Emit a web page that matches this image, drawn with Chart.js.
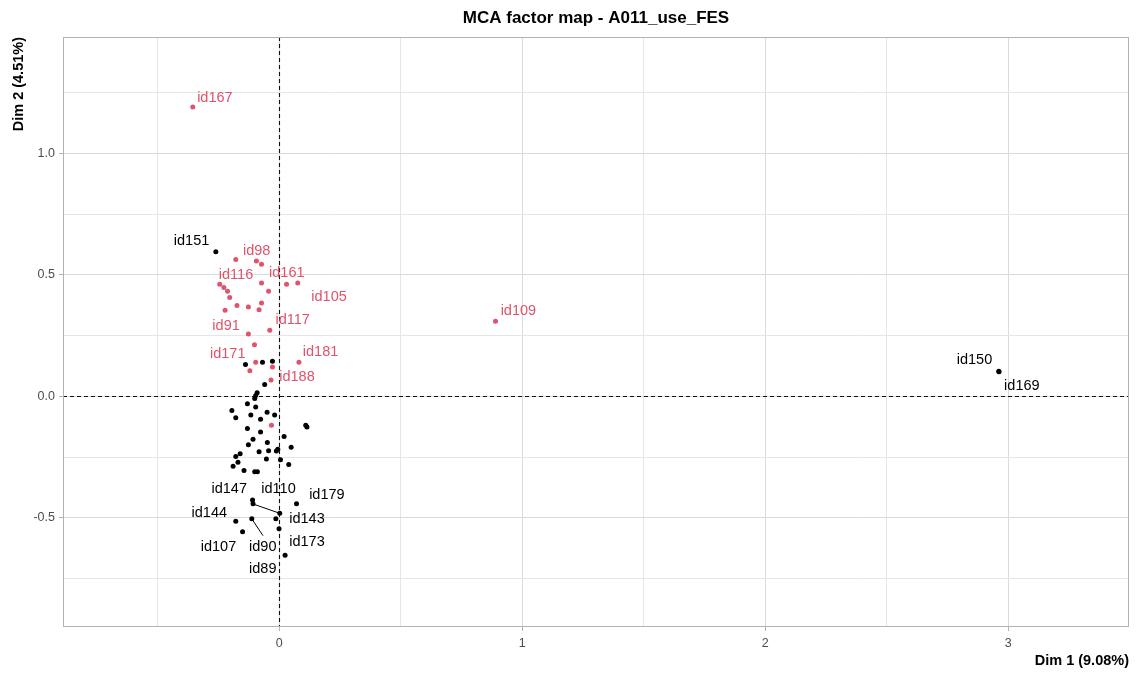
<!DOCTYPE html>
<html><head><meta charset="utf-8">
<script src="https://cdn.jsdelivr.net/npm/chart.js@4/dist/chart.umd.min.js"></script>
<style>html,body{margin:0;padding:0;background:#fff;}canvas{display:block;}</style>
</head><body>
<canvas id="c" width="1137" height="673"></canvas>
<script>
const chartTitle = "MCA factor map - A011_use_FES";
const xTitle = "Dim 1 (9.08%)";
const yTitle = "Dim 2 (4.51%)";
const xRange = [-0.89, 3.497];
const yRange = [-0.949, 1.479];
const xTicks = [-0.5, 0, 0.5, 1, 1.5, 2, 2.5, 3];
const xTickLabels = ["", "0", "", "1", "", "2", "", "3"];
const yTicks = [-0.75, -0.5, -0.25, 0, 0.25, 0.5, 0.75, 1, 1.25];
const yTickLabels = ["", "-0.5", "", "0.0", "", "0.5", "", "1.0", ""];

// individuals in the highlighted group (pink)
const pinkPoints = [
  [-0.356, 1.191], [-0.179, 0.563], [-0.094, 0.557], [-0.073, 0.544], [-0.073, 0.467],
  [0.030, 0.461], [0.076, 0.467], [-0.245, 0.461], [-0.228, 0.448], [-0.213, 0.433],
  [-0.044, 0.433], [-0.204, 0.407], [-0.073, 0.384], [-0.174, 0.374], [-0.127, 0.368],
  [-0.083, 0.357], [-0.223, 0.354], [-0.039, 0.272], [-0.127, 0.257], [-0.102, 0.213],
  [-0.097, 0.140], [-0.028, 0.121], [0.081, 0.140], [-0.121, 0.106], [-0.034, 0.067],
  [0.890, 0.309], [-0.032, -0.119]
];
// other individuals (black)
const blackPoints = [
  [-0.261, 0.595], [-0.139, 0.131], [-0.069, 0.141], [-0.028, 0.145], [-0.060, 0.049],
  [-0.091, 0.015], [-0.097, 0.004], [-0.101, -0.009], [-0.131, -0.030], [-0.097, -0.044],
  [-0.195, -0.058], [-0.050, -0.065], [-0.179, -0.088], [-0.117, -0.077], [-0.077, -0.094],
  [-0.019, -0.077], [0.109, -0.119], [0.114, -0.126], [-0.131, -0.132], [-0.077, -0.147],
  [0.020, -0.165], [-0.108, -0.176], [-0.127, -0.199], [-0.049, -0.190], [0.049, -0.209],
  [-0.083, -0.228], [-0.044, -0.224], [-0.012, -0.225], [-0.006, -0.217], [-0.161, -0.236],
  [-0.179, -0.247], [-0.053, -0.258], [0.005, -0.261], [-0.170, -0.271], [-0.190, -0.287],
  [0.039, -0.280], [-0.145, -0.305], [-0.101, -0.310], [-0.090, -0.310], [-0.110, -0.426],
  [-0.108, -0.442], [0.071, -0.442], [0.002, -0.481], [-0.179, -0.514], [-0.113, -0.504],
  [-0.014, -0.504], [-0.151, -0.557], [-0.001, -0.545], [0.024, -0.654], [2.961, 0.103],
  [2.962, 0.101]
];
// label texts and their (repelled) positions in data units
const labelNames = ["id167","id151","id98","id116","id161","id105","id117","id91","id171","id181","id188","id109",
  "id150","id169","id147","id110","id179","id143","id144","id107","id90","id173","id89"];
const labelX = [-0.265,-0.361,-0.093,-0.178,0.031,0.205,0.055,-0.219,-0.212,0.170,0.073,0.984,
  2.861,3.056,-0.206,-0.003,0.196,0.114,-0.288,-0.250,-0.068,0.114,-0.068];
const labelY = [1.230,0.639,0.599,0.501,0.508,0.411,0.316,0.290,0.173,0.183,0.080,0.351,
  0.151,0.041,-0.380,-0.380,-0.405,-0.504,-0.479,-0.618,-0.618,-0.600,-0.712];
const labelGroup = ["pink","black","pink","pink","pink","pink","pink","pink","pink","pink","pink","pink",
  "black","black","black","black","black","black","black","black","black","black","black"];
// repel segments
const segment1 = [[-0.110, -0.442], [0.002, -0.481]];
const segment2 = [[-0.113, -0.504], [-0.067, -0.573]];

const PINK = "#DF536B";
const FONT = "'Liberation Sans', Arial, sans-serif";
const toXY = a => a.map(p => ({x: p[0], y: p[1]}));

const decor = {
  id: "decor",
  beforeDraw(chart) {
    const c = chart.ctx;
    c.save(); c.fillStyle = "#fff"; c.fillRect(0, 0, chart.width, chart.height); c.restore();
  },
  beforeDatasetsDraw(chart) {
    const c = chart.ctx, a = chart.chartArea, xs = chart.scales.x, ys = chart.scales.y;
    c.save();
    c.strokeStyle = "#111"; c.lineWidth = 1.1; c.setLineDash([4, 3]);
    const x0 = Math.round(xs.getPixelForValue(0)) + 0.5;
    const y0 = Math.round(ys.getPixelForValue(0)) + 0.5;
    c.beginPath(); c.moveTo(x0, a.top); c.lineTo(x0, a.bottom); c.stroke();
    c.beginPath(); c.moveTo(a.left, y0); c.lineTo(a.right, y0); c.stroke();
    c.restore();
  },
  afterDatasetsDraw(chart) {
    const c = chart.ctx, a = chart.chartArea, xs = chart.scales.x, ys = chart.scales.y;
    c.save();
    // panel border
    c.strokeStyle = "#b3b3b3"; c.lineWidth = 1;
    c.strokeRect(Math.round(a.left) + 0.5, Math.round(a.top) + 0.5,
      Math.round(a.right - a.left) - 1, Math.round(a.bottom - a.top) - 1);
    // point labels
    c.font = "14.5px " + FONT; c.textAlign = "center"; c.textBaseline = "middle";
    labelNames.forEach((n, i) => {
      c.fillStyle = labelGroup[i] === "pink" ? PINK : "#000";
      c.fillText(n, xs.getPixelForValue(labelX[i]), ys.getPixelForValue(labelY[i]));
    });
    // titles
    c.fillStyle = "#000";
    c.font = "bold 17px " + FONT; c.textAlign = "center";
    c.fillText(chartTitle, (a.left + a.right) / 2, 18);
    c.font = "bold 14.5px " + FONT; c.textAlign = "right";
    c.fillText(xTitle, a.right, 661);
    c.translate(19, a.top); c.rotate(-Math.PI / 2);
    c.fillText(yTitle, 0, 0);
    c.restore();
  }
};

const isMajorX = v => xTickLabels[xTicks.indexOf(v)] !== "";
const isMajorY = v => yTickLabels[yTicks.indexOf(v)] !== "";

new Chart(document.getElementById("c"), {
  type: "scatter",
  data: {
    datasets: [
      {data: toXY(segment1), showLine: true, borderColor: "#000", borderWidth: 1, pointRadius: 0},
      {data: toXY(segment2), showLine: true, borderColor: "#000", borderWidth: 1, pointRadius: 0},
      {data: toXY(blackPoints), backgroundColor: "#000", borderWidth: 0, pointRadius: 2.5},
      {data: toXY(pinkPoints), backgroundColor: PINK, borderWidth: 0, pointRadius: 2.5}
    ]
  },
  options: {
    responsive: false, animation: false, devicePixelRatio: 1,
    layout: {padding: {top: 37, right: 8, left: 0, bottom: 0}},
    plugins: {legend: {display: false}, tooltip: {enabled: false}, title: {display: false}},
    scales: {
      x: {
        type: "linear", min: xRange[0], max: xRange[1],
        afterBuildTicks: s => { s.ticks = xTicks.map(v => ({value: v})); },
        afterFit: s => { s.height = 46; },
        ticks: {callback: v => xTickLabels[xTicks.indexOf(v)], font: {family: FONT, size: 12.5}, color: "#4d4d4d", padding: 5, maxRotation: 0, autoSkip: false},
        grid: {
          color: ctx => isMajorX(ctx.tick.value) ? "#dadada" : "#e6e6e6",
          lineWidth: 1,
          tickColor: ctx => isMajorX(ctx.tick.value) ? "#b3b3b3" : "rgba(0,0,0,0)",
          tickLength: 4, drawTicks: true
        },
        border: {display: false}
      },
      y: {
        type: "linear", min: yRange[0], max: yRange[1],
        afterBuildTicks: s => { s.ticks = yTicks.map(v => ({value: v})); },
        afterFit: s => { s.width = 63; },
        ticks: {callback: v => yTickLabels[yTicks.indexOf(v)], font: {family: FONT, size: 12.5}, color: "#4d4d4d", padding: 4, autoSkip: false},
        grid: {
          color: ctx => isMajorY(ctx.tick.value) ? "#dadada" : "#e6e6e6",
          lineWidth: 1,
          tickColor: ctx => isMajorY(ctx.tick.value) ? "#b3b3b3" : "rgba(0,0,0,0)",
          tickLength: 4, drawTicks: true
        },
        border: {display: false}
      }
    }
  },
  plugins: [decor]
});
</script>
</body></html>
